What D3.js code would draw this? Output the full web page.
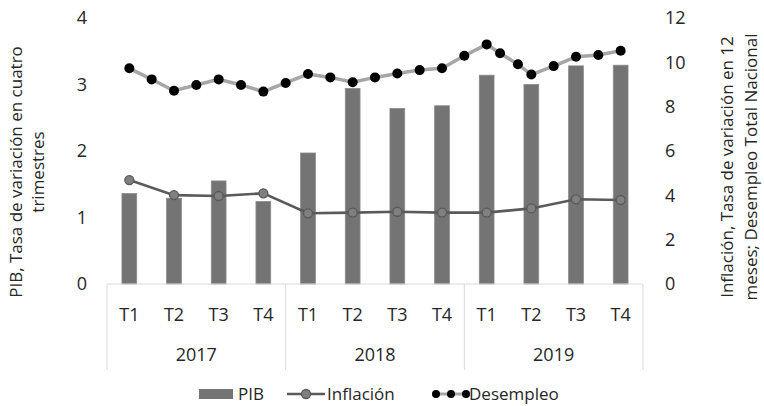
<!DOCTYPE html>
<html>
<head>
<meta charset="UTF-8">
<script src="https://cdnjs.cloudflare.com/ajax/libs/d3/7.8.5/d3.min.js"></script>
<style>
  body { margin: 0; background: #fff; }
  text { font-family: "Open Sans", sans-serif; fill: #262626; }
</style>
</head>
<body>
<svg id="chart"></svg>
<script>
var width = 764, height = 406;

// datos
var years = ["2017", "2018", "2019"];
var quarters = ["T1", "T2", "T3", "T4"];
var pib = [1.36, 1.29, 1.55, 1.24, 1.97, 2.94, 2.64, 2.68, 3.14, 3.00, 3.28, 3.29];
var inflacion = [4.69, 4.01, 3.97, 4.09, 3.19, 3.22, 3.26, 3.22, 3.22, 3.41, 3.82, 3.79];
// desempleo: posicion en trimestres (0 = T1 2017) y valor
var desempleoPos = [0, 0.5, 1, 1.5, 2, 2.5, 3, 3.5, 4, 4.5, 5, 5.5, 6, 6.5, 7, 7.5, 8, 8.3, 8.7, 9, 9.5, 10, 10.5, 11];
var desempleo = [9.73, 9.23, 8.72, 8.98, 9.23, 8.98, 8.68, 9.07, 9.47, 9.32, 9.10, 9.32,
                 9.50, 9.65, 9.73, 10.30, 10.81, 10.41, 9.91, 9.45, 9.83, 10.25, 10.33, 10.52];
var leftTicks = [0, 1, 2, 3, 4];
var rightTicks = [0, 2, 4, 6, 8, 10, 12];

var cats = [];
years.forEach(function (y) { quarters.forEach(function (q) { cats.push(y + "-" + q); }); });

var margin = { left: 107, right: 121, top: 18, bottom: 122 };
var x0 = margin.left, x1 = width - margin.right;
var yTop = margin.top, yBot = height - margin.bottom;

var x = d3.scaleBand().domain(cats).range([x0, x1]).padding(0);
var bw = x.bandwidth();
var xPos = d3.scaleLinear().domain([0, cats.length - 1]).range([x0 + bw / 2, x1 - bw / 2]);
var yL = d3.scaleLinear().domain([0, 4]).range([yBot, yTop]);
var yR = d3.scaleLinear().domain([0, 12]).range([yBot, yTop]);

var svg = d3.select("#chart").attr("width", width).attr("height", height);

// barras PIB
svg.append("g").selectAll("rect")
  .data(pib).enter().append("rect")
  .attr("x", function (d, i) { return x(cats[i]) + bw * 0.335; })
  .attr("width", bw * 0.33)
  .attr("y", function (d) { return yL(d); })
  .attr("height", function (d) { return yBot - yL(d); })
  .attr("fill", "#747474")
  .attr("stroke", "#8a8a8a")
  .attr("stroke-width", 0.8);

// eje de categorias (dos niveles)
var gridCol = "#d9d9d9";
var axisG = svg.append("g");
axisG.append("line").attr("x1", x0).attr("x2", x1).attr("y1", yBot).attr("y2", yBot)
  .attr("stroke", gridCol).attr("stroke-width", 1);
d3.range(years.length + 1).forEach(function (k) {
  var xx = k < years.length ? x(cats[k * 4]) : x1;
  axisG.append("line").attr("x1", xx).attr("x2", xx).attr("y1", yBot).attr("y2", yBot + 86)
    .attr("stroke", gridCol).attr("stroke-width", 1);
});
axisG.selectAll(".q").data(cats).enter().append("text")
  .attr("x", function (d) { return x(d) + bw / 2; })
  .attr("y", yBot + 37)
  .attr("text-anchor", "middle")
  .style("font-size", "18px")
  .text(function (d) { return d.split("-")[1]; });
axisG.selectAll(".y").data(years).enter().append("text")
  .attr("x", function (d, k) { return x(cats[k * 4]) + bw * 2; })
  .attr("y", yBot + 77)
  .attr("text-anchor", "middle")
  .style("font-size", "18px")
  .text(function (d) { return d; });

// linea inflacion
var lineInf = d3.line().x(function (d, i) { return xPos(i); }).y(function (d) { return yR(d); });
svg.append("path").datum(inflacion)
  .attr("d", lineInf).attr("fill", "none").attr("stroke", "#5a5a5a").attr("stroke-width", 2.6);
svg.append("g").selectAll("circle").data(inflacion).enter().append("circle")
  .attr("cx", function (d, i) { return xPos(i); })
  .attr("cy", function (d) { return yR(d); })
  .attr("r", 4.5)
  .attr("fill", "#808080").attr("stroke", "#5a5a5a").attr("stroke-width", 1.3);

// linea desempleo
var lineDes = d3.line().x(function (d, i) { return xPos(desempleoPos[i]); }).y(function (d) { return yR(d); });
svg.append("path").datum(desempleo)
  .attr("d", lineDes).attr("fill", "none").attr("stroke", "#a6a6a6").attr("stroke-width", 3.5);
svg.append("g").selectAll("circle").data(desempleo).enter().append("circle")
  .attr("cx", function (d, i) { return xPos(desempleoPos[i]); })
  .attr("cy", function (d) { return yR(d); })
  .attr("r", 5)
  .attr("fill", "#000");

// ejes verticales (solo etiquetas)
svg.append("g").selectAll("text").data(leftTicks).enter().append("text")
  .attr("x", 87).attr("y", function (d) { return yL(d); })
  .attr("dy", "0.35em").attr("text-anchor", "end")
  .style("font-size", "18px")
  .text(function (d) { return d; });
svg.append("g").selectAll("text").data(rightTicks).enter().append("text")
  .attr("x", 665).attr("y", function (d) { return yR(d); })
  .attr("dy", "0.35em").attr("text-anchor", "start")
  .style("font-size", "18px")
  .text(function (d) { return d; });

// titulos de ejes
var tl = svg.append("text").attr("transform", "translate(22,172) rotate(-90)")
  .attr("text-anchor", "middle").style("font-size", "17px");
tl.append("tspan").attr("x", 0).attr("dy", 0).text("PIB, Tasa de variación en cuatro");
tl.append("tspan").attr("x", 0).attr("dy", 22).text("trimestres");

var tr = svg.append("text").attr("transform", "translate(733,167) rotate(-90)")
  .attr("text-anchor", "middle").style("font-size", "17px");
tr.append("tspan").attr("x", 0).attr("dy", 0).text("Inflación, Tasa de variación en 12");
tr.append("tspan").attr("x", 0).attr("dy", 24).text("meses; Desempleo Total Nacional");

// leyenda
var lg = svg.append("g").attr("transform", "translate(0,394)");
lg.append("rect").attr("x", 199).attr("y", -5).attr("width", 34).attr("height", 10).attr("fill", "#747474");
lg.append("text").attr("x", 238).attr("y", 0).attr("dy", "0.35em").style("font-size", "17px").text("PIB");
lg.append("line").attr("x1", 287).attr("x2", 325).attr("y1", 0).attr("y2", 0)
  .attr("stroke", "#5a5a5a").attr("stroke-width", 2.6);
lg.append("circle").attr("cx", 306).attr("cy", 0).attr("r", 4.5)
  .attr("fill", "#808080").attr("stroke", "#5a5a5a").attr("stroke-width", 1.3);
lg.append("text").attr("x", 327).attr("y", 0).attr("dy", "0.35em").style("font-size", "17px").text("Inflación");
lg.append("line").attr("x1", 436).attr("x2", 466).attr("y1", 0).attr("y2", 0)
  .attr("stroke", "#a6a6a6").attr("stroke-width", 3);
[436, 451, 466].forEach(function (cx) {
  lg.append("circle").attr("cx", cx).attr("cy", 0).attr("r", 4).attr("fill", "#000");
});
lg.append("text").attr("x", 469).attr("y", 0).attr("dy", "0.35em").style("font-size", "17px").text("Desempleo");
</script>
</body>
</html>
